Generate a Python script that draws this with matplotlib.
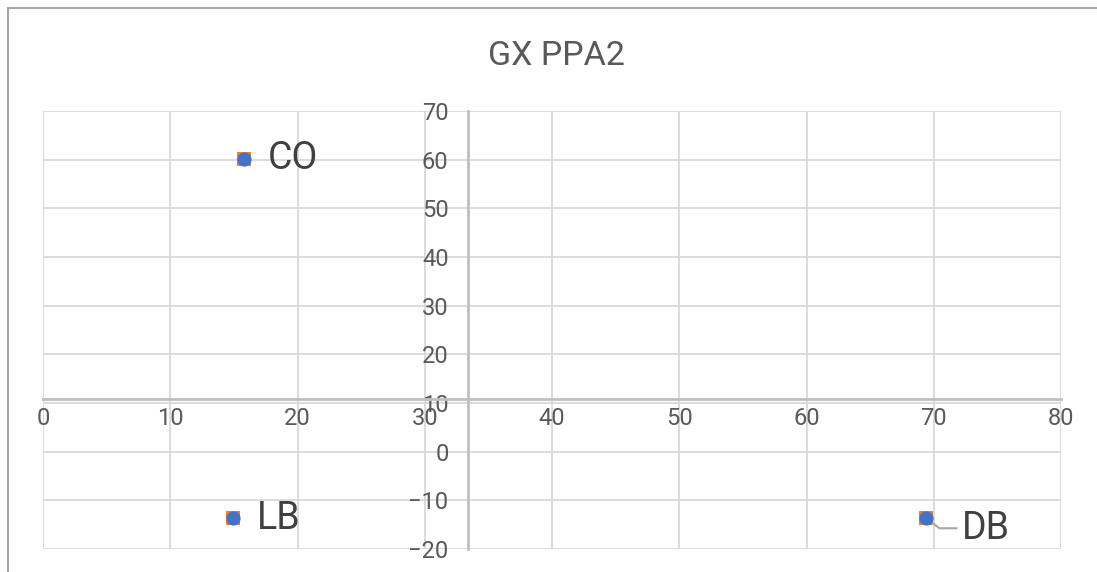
import matplotlib
matplotlib.use("Agg")
import matplotlib.pyplot as plt
from matplotlib.patches import Rectangle

plt.rcParams['font.family'] = ['Roboto', 'Noto Sans CJK SC', 'DejaVu Sans']

names = ['CO', 'LB', 'DB']
xs = [15.8, 14.95, 69.4]
ys = [60.2, -13.7, -13.6]

x_ticks = [0, 10, 20, 30, 40, 50, 60, 70, 80]
y_ticks = [-20, -10, 0, 10, 20, 30, 40, 50, 60, 70]

# where the axes cross each other
cross_x = 33.4
cross_y = 10.8

grey = '#595959'

fig = plt.figure(figsize=(10.97, 5.72), dpi=100)
ax = fig.add_axes([43 / 1097, 1 - 549 / 572, (1061 - 43) / 1097, (549 - 111) / 572])

# orange squares sit behind the blue circles
ax.scatter(xs, ys, marker='s', s=95, color='#ed7d31', zorder=3, linewidths=0)
ax.scatter(xs, ys, marker='o', s=105, color='#4472c4', zorder=4, linewidths=0)

ax.set_xlim(0, 80)
ax.set_ylim(-20, 70)
ax.set_xticks(x_ticks)
ax.set_yticks(y_ticks)
ax.grid(True, color='#d9d9d9', linewidth=1.3)
ax.set_axisbelow(True)

for s in ['top', 'right']:
    ax.spines[s].set_visible(False)
ax.spines['left'].set_position(('data', cross_x))
ax.spines['bottom'].set_position(('data', cross_y))
for s in ['left', 'bottom']:
    ax.spines[s].set_color('#bfbfbf')
    ax.spines[s].set_linewidth(2)
    ax.spines[s].set_zorder(2)

ax.tick_params(length=0, labelsize=17, labelcolor=grey, pad=2)
ax.tick_params(axis='x', pad=6)
ax.tick_params(axis='y', pad=14)

# point labels
lab_kw = dict(textcoords='offset points', fontsize=27, color='#404040',
              va='center', ha='left')
ax.annotate(names[0], (xs[0], ys[0]), xytext=(17, 0), **lab_kw)
ax.annotate(names[1], (xs[1], ys[1]), xytext=(17, 0), **lab_kw)
ax.annotate(names[2], (xs[2], ys[2]), xytext=(26, -7.5), **lab_kw,
            arrowprops=dict(arrowstyle='-', color='#a6a6a6', lw=1.5, shrinkA=2, shrinkB=0,
                            relpos=(0, 0.5),
                            connectionstyle='angle,angleA=0,angleB=-38,rad=0'))

fig.text(556 / 1097, 1 - 56 / 572, 'GX PPA2', fontsize=24.5, color=grey,
         ha='center', va='center')

# outer chart border, cut off on the right and bottom
fig.add_artist(Rectangle((8 / 1097, -0.2), 1.2, 1.2 - 8 / 572,
                         transform=fig.transFigure, fill=False,
                         edgecolor='#a6a6a6', linewidth=1.5))

fig.savefig('out.png', dpi=100)
